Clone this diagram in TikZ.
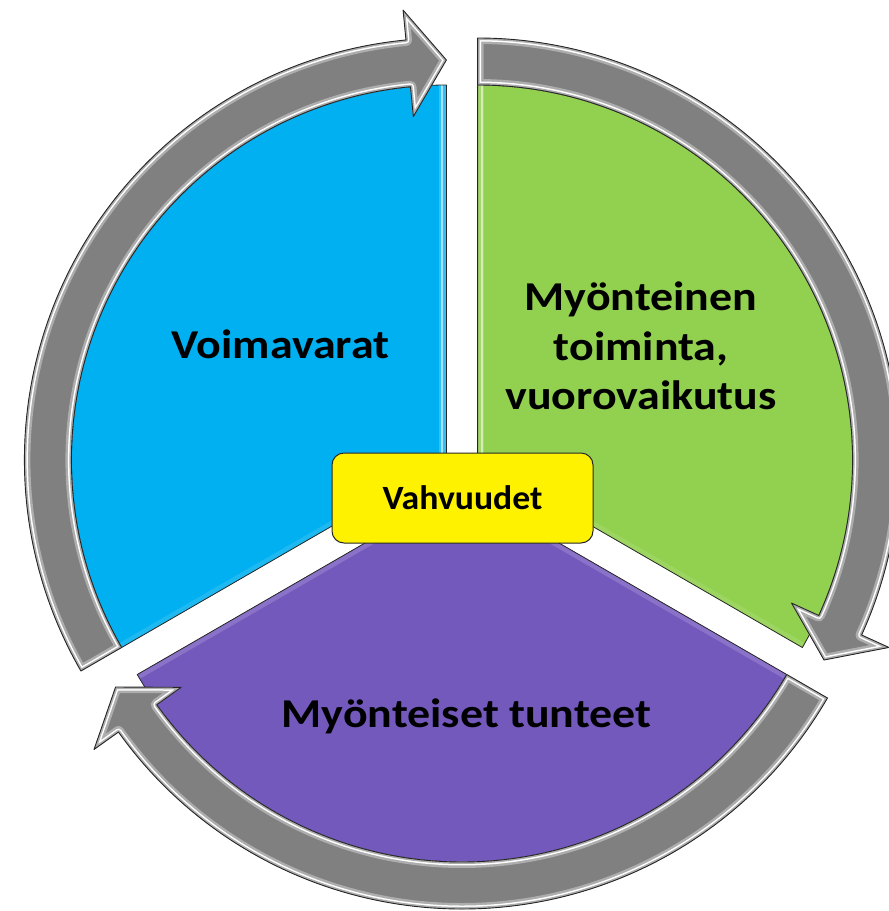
\documentclass[tikz,border=0pt]{standalone}
\usepackage{fontspec}
\setmainfont{Carlito}
\newfontfamily\widefont[FakeStretch=1.12]{Carlito}
\newfontfamily\midfont[FakeStretch=1.05]{Carlito}
\definecolor{blueseg}{HTML}{00B0F0}
\definecolor{greenseg}{HTML}{92D050}
\definecolor{purpleseg}{HTML}{7459BD}
\definecolor{ringgray}{HTML}{808080}
\definecolor{ringlight}{HTML}{ADADAD}
\definecolor{edgedark}{HTML}{262626}
\tikzset{
  segline/.style={draw=edgedark, line width=0.8pt, line join=round},
  lbl/.style={font=\widefont\bfseries\fontsize{41}{49.5}\selectfont, text=black, align=center, inner sep=0pt},
  corebox/.style={draw=edgedark, line width=1pt, fill=yellow, rounded corners=12pt,
    minimum width=261pt, minimum height=90pt, inner sep=0pt,
    font=\midfont\bfseries\fontsize{34}{40}\selectfont},
}
\newcommand{\ringarrow}[4]{%
  \begin{scope}[shift={(#1,#2)}]
    \pgfmathsetmacro{\hb}{#4+5.5}
    \def\rp{(#3:422) arc[start angle=#3,end angle=\hb,radius=422] -- (\hb:452) -- (#4:400) -- (\hb:345) -- (\hb:375) arc[start angle=\hb,end angle=#3,radius=375] -- cycle}
    \fill[ringgray] \rp;
    \begin{scope}
      \clip \rp;
      \draw[ringlight, line width=12pt, line join=round] \rp;
      \draw[white, line width=7pt, line join=round] \rp;
      \draw[ringlight, line width=4pt, line join=round] \rp;
    \end{scope}
    \draw[edgedark, line width=0.9pt, line join=round] \rp;
  \end{scope}}
\begin{document}
\begin{tikzpicture}[x=1pt,y=1pt]
\useasboundingbox (0,-911) rectangle (889,0);
% blue sector
\begin{scope}[shift={(446.4,-460)}]
  \fill[blueseg] (0,0) -- (90:375) arc[start angle=90,end angle=210,radius=375] -- cycle;
  \begin{scope}
    \clip (0,0) -- (90:375) arc[start angle=90,end angle=210,radius=375] -- cycle;
    \draw[blueseg!80!white, line width=14pt] (0,0) -- (90:380);
    \draw[blueseg!35!white, line width=2pt] (-4,0) -- (-4,380);
    \draw[blueseg!88!white, line width=10pt] (0,0) -- (210:380);
  \end{scope}
  \draw[segline] (0,0) -- (90:375) arc[start angle=90,end angle=210,radius=375] -- cycle;
\end{scope}
% green sector
\begin{scope}[shift={(477.6,-460)}]
  \fill[greenseg] (0,0) -- (-30:375) arc[start angle=-30,end angle=90,radius=375] -- cycle;
  \begin{scope}
    \clip (0,0) -- (-30:375) arc[start angle=-30,end angle=90,radius=375] -- cycle;
    \draw[greenseg!85!white, line width=12pt] (0,0) -- (90:380);
    \draw[greenseg!40!white, line width=2pt] (4,0) -- (4,380);
    \draw[greenseg!90!white, line width=10pt] (0,0) -- (-30:380);
  \end{scope}
  \draw[segline] (0,0) -- (-30:375) arc[start angle=-30,end angle=90,radius=375] -- cycle;
\end{scope}
% purple sector
\begin{scope}[shift={(462,-487)}]
  \fill[purpleseg] (0,0) -- (210:375) arc[start angle=210,end angle=330,radius=375] -- cycle;
  \begin{scope}
    \clip (0,0) -- (210:375) arc[start angle=210,end angle=330,radius=375] -- cycle;
    \draw[purpleseg!85!white, line width=10pt] (210:380) -- (0,0) -- (330:380);
  \end{scope}
  \draw[segline] (0,0) -- (210:375) arc[start angle=210,end angle=330,radius=375] -- cycle;
\end{scope}
% ring arrows
\ringarrow{446.4}{-460}{210}{90}
\ringarrow{477.6}{-460}{90}{-30}
\ringarrow{462}{-487}{330}{210}
% labels
\node[lbl, anchor=base] (res) at (280.5,-358) {Voimavarat};
\node[lbl] (act) at (641,-346) {Myönteinen\\toiminta,\\vuorovaikutus};
\node[lbl, anchor=base] (emo) at (466.5,-727) {Myönteiset tunteet};
\node[corebox] (core) at (462.5,-498) {Vahvuudet};
\end{tikzpicture}
\end{document}
